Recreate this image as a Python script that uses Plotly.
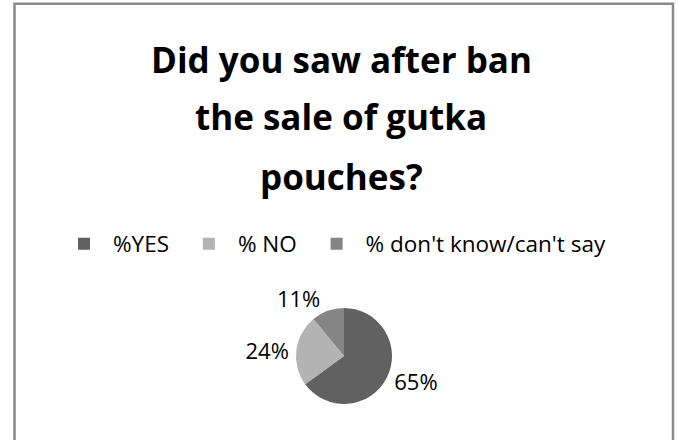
import plotly.graph_objects as go

categories = ["%YES", "% NO", "% don't know/can't say"]
values = [65, 24, 11]
colors = ["#616161", "#b3b3b3", "#858585"]
title_lines = ["Did you saw after ban", "the sale of gutka", "pouches?"]

W, H = 678, 440

# small non-breaking padding widens the gap between legend entries
legend_labels = [c + "\u00a0" if i < len(categories) - 1 else c for i, c in enumerate(categories)]

fig = go.Figure()
fig.add_trace(go.Pie(
    labels=legend_labels,
    values=values,
    marker=dict(colors=colors, line=dict(width=0)),
    sort=False,
    direction="clockwise",
    rotation=0,
    textinfo="percent",
    texttemplate="%{percent:.0%}",
    textposition="outside",
    outsidetextfont=dict(family="Open Sans", size=22, color="#000000"),
    domain=dict(x=[296 / W, 392 / W], y=[1 - 404 / H, 1 - 308 / H]),
    showlegend=True,
    hoverinfo="skip",
))

title_y = [60, 117, 176]
for line, yy in zip(title_lines, title_y):
    fig.add_annotation(
        text=line, x=341 / W, y=1 - yy / H, xref="paper", yref="paper",
        xanchor="center", yanchor="middle", showarrow=False,
        font=dict(family="Open Sans", size=35, color="#000000", weight="bold"),
    )

fig.add_shape(
    type="rect", xref="paper", yref="paper",
    x0=14.5 / W, x1=673 / W, y0=-0.1, y1=1 - 3.7 / H,
    line=dict(color="#8a8a8a", width=2.5), fillcolor="rgba(0,0,0,0)",
)

fig.update_layout(
    width=W, height=H,
    margin=dict(l=0, r=0, t=0, b=0),
    paper_bgcolor="#ffffff",
    plot_bgcolor="#ffffff",
    legend=dict(
        orientation="h", x=55 / W, y=1 - 244 / H, xanchor="left", yanchor="middle",
        itemwidth=48,
        font=dict(family="Open Sans", size=22.5, color="#000000"),
        bgcolor="rgba(0,0,0,0)", traceorder="normal",
    ),
)

fig.write_html(
    "out.html",
    config={"displayModeBar": False},
    post_script="document.body.style.margin='0';document.body.style.overflow='hidden';",
)
